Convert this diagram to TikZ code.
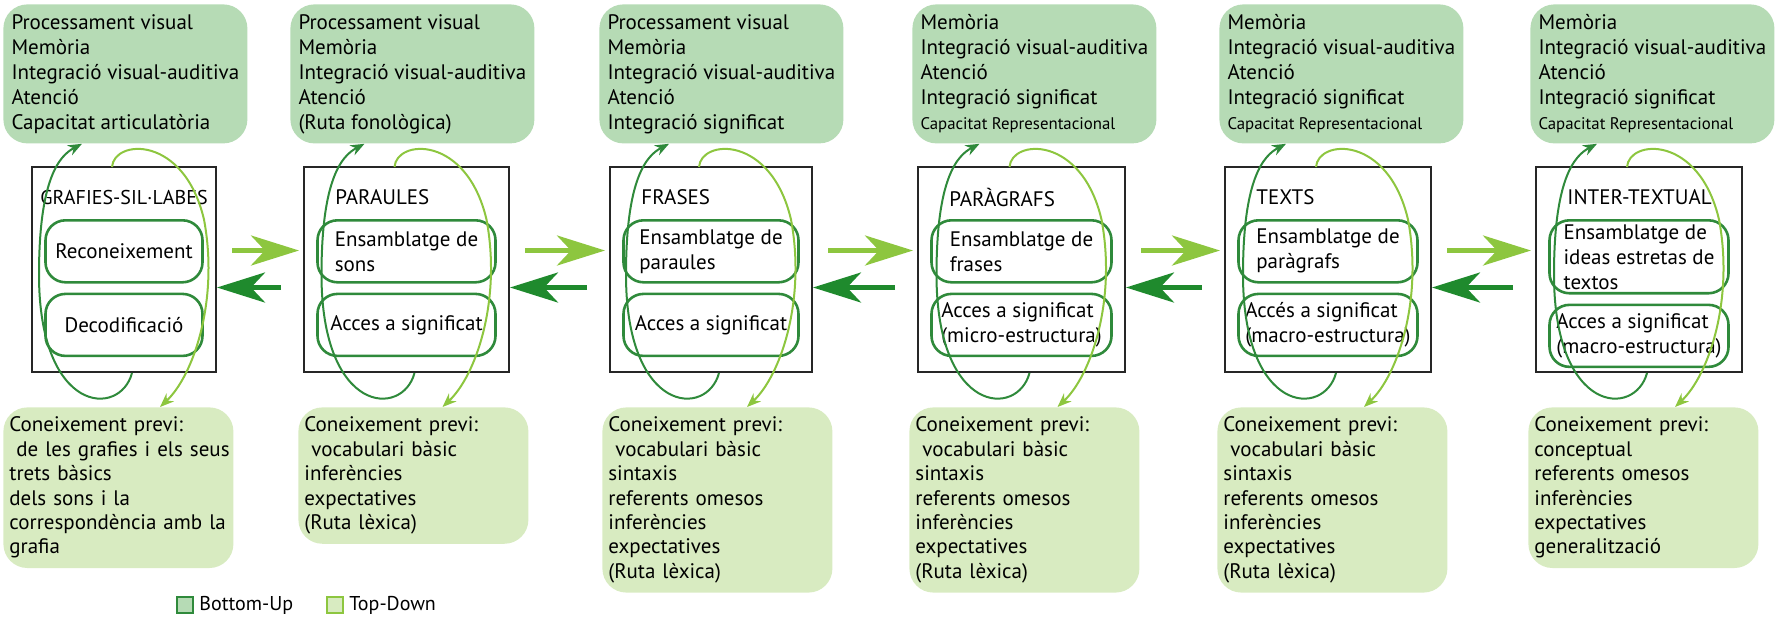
\documentclass[tikz,border=0pt]{standalone}
\usepackage{fontspec}
\setmainfont{PT Sans}
\usetikzlibrary{positioning,calc,arrows.meta}

\definecolor{bufill}{HTML}{B6DBB5}
\definecolor{tdfill}{HTML}{D8EBC1}
\definecolor{budark}{HTML}{2F8A3B}
\definecolor{bustrong}{HTML}{1F8A2D}
\definecolor{tdlight}{HTML}{8DC63F}

\newcommand{\capline}{{\fontsize{8.4}{10}\selectfont Capacitat Representacional}}

\tikzset{
  procbox/.style={rectangle,rounded corners=12pt,fill=bufill,anchor=north west,
    minimum width=122pt,minimum height=69.5pt,inner sep=4pt,align=left,
    font=\fontsize{10.5}{12.5}\selectfont},
  knowbox/.style={rectangle,rounded corners=12pt,fill=tdfill,anchor=north west,
    text width=109pt,inner xsep=3pt,inner ysep=4.8pt,align=left,
    font=\fontsize{10.5}{12.2}\selectfont},
  levelbox/.style={rectangle,draw=black!85,line width=1pt,minimum height=102.5pt},
  leveltitle/.style={inner sep=0pt,font=\fontsize{10.5}{12.5}\selectfont},
  unitbox/.style={rectangle,draw=budark,line width=1.3pt,rounded corners=10pt,
    minimum height=31pt,inner xsep=3pt,inner ysep=2pt,align=left,
    font=\fontsize{10.5}{12.5}\selectfont},
  bu/.style={draw=budark,line width=1pt,-{Stealth[length=7pt,width=5.5pt]}},
  td/.style={draw=tdlight,line width=1pt,-{Stealth[length=7pt,width=5.5pt]}},
  fwd/.style={draw=tdlight,line width=2.5pt,-{Stealth[length=24pt,width=15pt,inset=7pt]}},
  bwd/.style={draw=bustrong,line width=2.5pt,-{Stealth[length=24pt,width=15pt,inset=7pt]}},
  legkey/.style={rectangle,line width=1pt,minimum size=8pt,inner sep=0pt}
}

\begin{document}
\begin{tikzpicture}[x=0.5pt,y=-0.5pt,node distance=4.5pt]
  \useasboundingbox (0,0) rectangle (1783,617);

  % processes (bottom-up)
  \node[procbox] (graf-top)  at (3,4)    {Processament visual\\Memòria\\Integració visual-auditiva\\Atenció\\Capacitat articulatòria};
  \node[procbox] (par-top)   at (290,4)  {Processament visual\\Memòria\\Integració visual-auditiva\\Atenció\\(Ruta fonològica)};
  \node[procbox] (fra-top)   at (599,4)  {Processament visual\\Memòria\\Integració visual-auditiva\\Atenció\\Integració significat};
  \node[procbox] (parg-top)  at (912,4)  {Memòria\\Integració visual-auditiva\\Atenció\\Integració significat\\\capline};
  \node[procbox] (txt-top)   at (1219,4) {Memòria\\Integració visual-auditiva\\Atenció\\Integració significat\\\capline};
  \node[procbox] (inter-top) at (1530,4) {Memòria\\Integració visual-auditiva\\Atenció\\Integració significat\\\capline};

  % levels
  \node[levelbox,minimum width=92pt]    (graf-box)  at (124,269.5)    {};
  \node[levelbox,minimum width=102.5pt] (par-box)   at (406.5,269.5)  {};
  \node[levelbox,minimum width=101pt]   (fra-box)   at (711,269.5)    {};
  \node[levelbox,minimum width=103.5pt] (parg-box)  at (1021.5,269.5) {};
  \node[levelbox,minimum width=103pt]   (txt-box)   at (1328,269.5)   {};
  \node[levelbox,minimum width=103pt]   (inter-box) at (1639,269.5)   {};

  \node[leveltitle,font=\fontsize{10}{12}\selectfont] (graf-title) at ($(graf-box.north)+(0,31)$) {GRAFIES-SIL·LABES};
  \node[leveltitle,anchor=west] (par-title)   at ($(par-box.north west)+(32,31)$)   {PARAULES};
  \node[leveltitle,anchor=west] (fra-title)   at ($(fra-box.north west)+(32,31)$)   {FRASES};
  \node[leveltitle,anchor=west] (parg-title)  at ($(parg-box.north west)+(32,31)$)  {PARÀGRAFS};
  \node[leveltitle,anchor=west] (txt-title)   at ($(txt-box.north west)+(32,31)$)   {TEXTS};
  \node[leveltitle,anchor=west] (inter-title) at ($(inter-box.north west)+(32,31)$) {INTER-TEXTUAL};

  \node[unitbox,minimum width=78.5pt,anchor=north,align=center] (graf-a) at ($(graf-box.north)+(0,53)$) {Reconeixement};
  \node[unitbox,minimum width=78.5pt,align=center] (graf-b) [below=of graf-a] {Decodificació};
  \node[unitbox,minimum width=89pt,anchor=north] (par-a) at ($(par-box.north)+(0,53)$) {Ensamblatge de\\sons};
  \node[unitbox,minimum width=89pt] (par-b) [below=of par-a] {Acces a significat};
  \node[unitbox,minimum width=87.5pt,anchor=north] (fra-a) at ($(fra-box.north)+(0,53)$) {Ensamblatge de\\paraules};
  \node[unitbox,minimum width=87.5pt] (fra-b) [below=of fra-a] {Acces a significat};
  \node[unitbox,minimum width=90pt,anchor=north] (parg-a) at ($(parg-box.north)+(0,53)$) {Ensamblatge de\\frases};
  \node[unitbox,minimum width=90pt] (parg-b) [below=of parg-a] {Acces a significat\\(micro-estructura)};
  \node[unitbox,minimum width=89.5pt,anchor=north] (txt-a) at ($(txt-box.north)+(0,53)$) {Ensamblatge de\\paràgrafs};
  \node[unitbox,minimum width=89.5pt] (txt-b) [below=of txt-a] {Accés a significat\\(macro-estructura)};
  \node[unitbox,minimum width=89.5pt,anchor=north] (inter-a) at ($(inter-box.north)+(0,53)$) {Ensamblatge de\\ideas estretas de\\textos};
  \node[unitbox,minimum width=89.5pt] (inter-b) [below=of inter-a] {Acces a significat\\(macro-estructura)};

  % previous knowledge (top-down)
  \node[knowbox] (graf-bot)  at (3,407)    {Coneixement previ:\\\mbox{\ de les grafies i els seus}\\trets bàsics\\dels sons i la\\correspondència amb la\\grafia};
  \node[knowbox] (par-bot)   at (298,407)  {Coneixement previ:\\\ vocabulari bàsic\\inferències\\expectatives\\(Ruta lèxica)};
  \node[knowbox] (fra-bot)   at (602,407)  {Coneixement previ:\\\ vocabulari bàsic\\sintaxis\\referents omesos\\inferències\\expectatives\\(Ruta lèxica)};
  \node[knowbox] (parg-bot)  at (909,407)  {Coneixement previ:\\\ vocabulari bàsic\\sintaxis\\referents omesos\\inferències\\expectatives\\(Ruta lèxica)};
  \node[knowbox] (txt-bot)   at (1217,407) {Coneixement previ:\\\ vocabulari bàsic\\sintaxis\\referents omesos\\inferències\\expectatives\\(Ruta lèxica)};
  \node[knowbox] (inter-bot) at (1528,407) {Coneixement previ:\\conceptual\\referents omesos\\inferències\\expectatives\\generalització};

  % loops
  \foreach \col in {graf,par,fra,parg,txt,inter} {
    \draw[bu] ($(\col-box.south)+(8,0)$) .. controls +(-12,45) and +(0,140) .. ($(\col-box.center)+(-85,5)$)
      .. controls +(0,-95) and +(-23,12) .. ($(\col-box.center |- \col-top.south)+(-42,0)$);
    \draw[td] ($(\col-box.north)+(-12,1)$) .. controls +(2,-28) and +(-20,-85) .. ($(\col-box.center)+(80,-50)$)
      .. controls +(15,80) and +(34,-32) .. ($(\col-box.center |- \col-bot.north)+(36,0)$);
  }

  % between levels
  \foreach \a/\b in {graf/par,par/fra,fra/parg,parg/txt,txt/inter} {
    \draw[fwd] ($(\a-box.east)+(15,-19)$) -- ($(\b-box.west)+(-4,-19)$);
    \draw[bwd] ($(\b-box.west)+(-22,18)$) -- ($(\a-box.east)+(0,18)$);
  }

  % legend
  \node[legkey,fill=bufill,draw=budark] (bu-key) at (185,605) {};
  \node[right=2.5pt of bu-key,inner sep=0pt] (bu-label) {Bottom-Up};
  \node[legkey,fill=tdfill,draw=tdlight] (td-key) at (335,605) {};
  \node[right=2.5pt of td-key,inner sep=0pt] (td-label) {Top-Down};
\end{tikzpicture}
\end{document}
